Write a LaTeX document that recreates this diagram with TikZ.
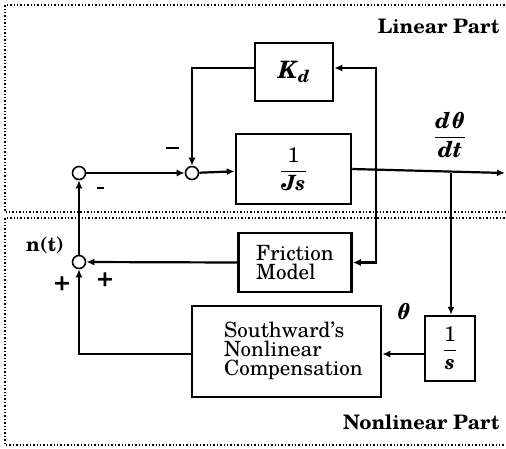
\documentclass[tikz,border=0pt]{standalone}
\usepackage{amsmath}
\usepackage{fontspec}
\setmainfont{texgyreschola-regular.otf}[BoldFont=texgyreschola-bold.otf, ItalicFont=texgyreschola-italic.otf, BoldItalicFont=texgyreschola-bolditalic.otf]
\usetikzlibrary{arrows.meta}
\newcommand{\ti}[1]{\textit{#1}}
\tikzset{
  blk/.style={draw, line width=2.5pt, inner sep=0pt},
  sumj/.style={draw, circle, line width=1.6pt, minimum size=13pt, inner sep=0pt, fill=white},
  sig/.style={line width=2.2pt, -{Latex[length=8pt,width=7pt]}},
  region/.style={line width=1.4pt, dotted},
  lbl/.style={font=\fontsize{20}{22}\selectfont\bfseries},
  mth/.style={font=\fontsize{22}{22}\selectfont},
  btxt/.style={font=\fontsize{21}{19}\selectfont},
  sgn/.style={font=\fontsize{27}{27}\selectfont\bfseries},
}
\begin{document}
\begin{tikzpicture}[x=1pt,y=-1pt]
\useasboundingbox (0,0) rectangle (506,448);
% regions
\draw[region] (508,5) -- (5,5) -- (5,212) -- (508,212);
\draw[region] (508,218) -- (5,218) -- (5,445) -- (508,445);
\node[lbl, anchor=east] (lin) at (503,26) {Linear Part};
\node[lbl, anchor=east] (nonlin) at (503,422) {Nonlinear Part};
% blocks
\node[blk, minimum width=78pt, minimum height=58pt, font=\fontsize{24}{24}\selectfont] (kd) at (294,72) {\textbf{\ti{K}\textsubscript{\ti{d}}}};
\node[blk, minimum width=115pt, minimum height=70pt, font=\fontsize{21}{22}\selectfont] (js) at (293.5,169) {$\dfrac{\text{1}}{\text{\textbf{\ti{Js}}}}$};
\node[blk, minimum width=113pt, minimum height=59pt, align=left, btxt] (fric) at (295,262.5) {Friction\\Model};
\node[blk, minimum width=189pt, minimum height=91pt] (sw) at (286.5,351.5) {};
\node[btxt, align=left, anchor=west, inner sep=0pt] (swt) at (224,351) {Southward's\\Nonlinear\\Compensation};
\node[blk, minimum width=50pt, minimum height=65pt, font=\fontsize{21}{22}\selectfont] (inv) at (450,348.5) {$\dfrac{\text{1}}{\text{\textbf{\ti{s}}}}$};
% junctions
\node[sumj] (s1) at (79,173) {};
\node[sumj] (s2) at (192,173) {};
\node[sumj] (s3) at (79,262) {};
% coordinates
\coordinate (out) at (505,173);
\coordinate (b1) at (376,173);
\coordinate (b2) at (451,173);
% connectors
\draw[sig] (s1) -- (s2);
\draw[sig] (s2) -- (js);
\draw[sig] (js.east) -- (out);
\draw[sig] (b1) |- (fric.east);
\draw[sig] (376,262) -- (376,68) -- (kd.east |- 0,68);
\draw[sig] (kd.west |- 0,68) -| (s2.north);
\draw[sig] (b2) -- (inv.north -| b2);
\draw[sig] (inv.west |- 0,354) -- (sw.east |- 0,354);
\draw[sig] (sw.west |- 0,354) -| (s3.south);
\draw[sig] (fric.west) -- (s3.east);
\draw[sig] (s3.north) -- (s1.south);
% labels
\node[mth] (dth) at (450,135) {$\dfrac{\text{\textbf{\ti{dθ}}}}{\text{\textbf{\ti{dt}}}}$};
\node[mth] (th) at (403,312) {\textbf{\ti{θ}}};
\node[lbl] (nt) at (45,245) {n(t)};
\node[inner sep=0pt] (m1) at (172,148) {\rule{13pt}{2.2pt}};
\node[inner sep=0pt] (m2) at (100,188) {\rule{7pt}{1.6pt}};
\node[sgn] (p1) at (62,284) {+};
\node[sgn] (p2) at (105,280) {+};
\end{tikzpicture}
\end{document}
